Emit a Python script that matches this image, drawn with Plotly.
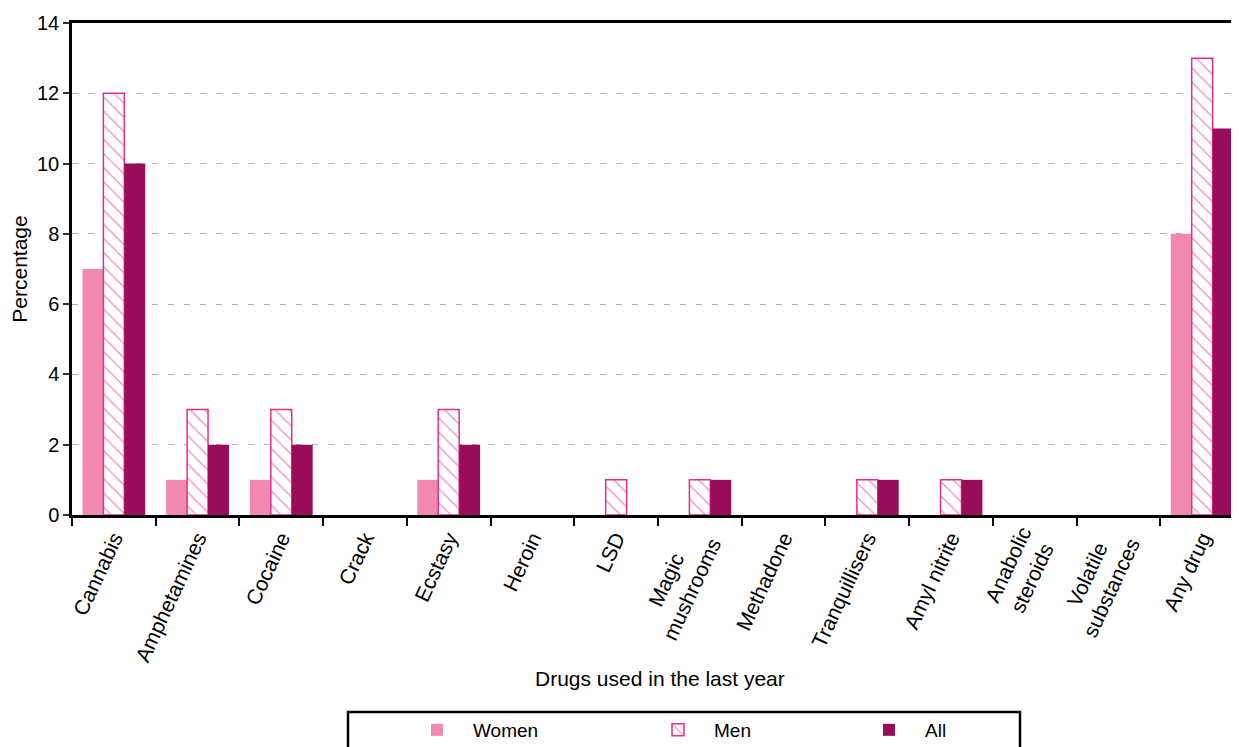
import plotly.graph_objects as go

categories = ["Cannabis", "Amphetamines", "Cocaine", "Crack", "Ecstasy", "Heroin", "LSD",
              "Magic mushrooms", "Methadone", "Tranquillisers", "Amyl nitrite",
              "Anabolic steroids", "Volatile substances", "Any drug"]
# tick labels as shown (two-line labels centred by padding the shorter line)
NB = "\u00a0"
tick_labels = ["Cannabis", "Amphetamines", "Cocaine", "Crack", "Ecstasy", "Heroin", "LSD",
               "Magic" + NB * 5 + "<br>mushrooms", "Methadone", "Tranquillisers", "Amyl nitrite",
               "Anabolic<br>steroids" + NB, "Volatile" + NB * 3 + "<br>substances", "Any drug"]
women = [7, 1, 1, 0, 1, 0, 0, 0, 0, 0, 0, 0, 0, 8]
men = [12, 3, 3, 0, 3, 0, 1, 1, 0, 1, 1, 0, 0, 13]
all_ = [10, 2, 2, 0, 2, 0, 0, 1, 0, 1, 1, 0, 0, 11]
y_ticks = [0, 2, 4, 6, 8, 10, 12, 14]

FONT = "Liberation Sans, Arial, sans-serif"
PINK = "#F088B0"
MAGENTA = "#E0308C"
PLUM = "#990C5A"

OFF = 8  # default page body margin
W, H = 1239 - OFF, 747 - OFF
# plot area in page coordinates: left 72, top 23, bottom 515, right 1239
L = 72 - OFF
T = 23 - OFF
B = H - (515 - OFF)
R = 0
pw = W - L - R
ph = H - T - B


def px(x):
    return (x - OFF - L) / pw


def py(y):
    return (H - B - (y - OFF)) / ph


men_line = [1.5 if v > 0 else 0 for v in men]

fig = go.Figure()
fig.add_trace(go.Bar(name="Women", x=categories, y=women, marker=dict(color=PINK, line=dict(width=0)),
                     legend="legend"))
fig.add_trace(go.Bar(name="Men", x=categories, y=men,
                     marker=dict(color="white", line=dict(color=MAGENTA, width=men_line),
                                 pattern=dict(shape="\\", fgcolor=MAGENTA, bgcolor="white", size=10, solidity=0.15)),
                     legend="legend2"))
fig.add_trace(go.Bar(name="All", x=categories, y=all_, marker=dict(color=PLUM, line=dict(width=0)),
                     legend="legend3"))

leg_common = dict(orientation="h", yanchor="middle", xanchor="left", font=dict(family=FONT, size=19, color="black"),
                  bgcolor="rgba(0,0,0,0)", borderwidth=0, itemwidth=62)
fig.update_layout(
    width=W, height=H,
    showlegend=True,
    margin=dict(l=L, r=R, t=T, b=B, autoexpand=False),
    paper_bgcolor="white", plot_bgcolor="white",
    barmode="group", bargap=0.25, bargroupgap=0,
    font=dict(family=FONT, size=20, color="black"),
    legend=dict(x=px(401), y=py(730), **leg_common),
    legend2=dict(x=px(642), y=py(730), **leg_common),
    legend3=dict(x=px(853), y=py(730), **leg_common),
    xaxis=dict(range=[-0.5, 13.44], showline=True, linecolor="black", linewidth=2.5, mirror=True,
               tickmode="array", tickvals=categories, ticktext=tick_labels,
               ticks="outside", tickson="boundaries", ticklen=8, tickwidth=1.5, tickcolor="black",
               tickangle=-65, tickfont=dict(family=FONT, size=21), showgrid=False, automargin=False),
    yaxis=dict(range=[0, 14], tickvals=y_ticks, ticktext=[str(v) for v in y_ticks],
               showline=True, linecolor="black", linewidth=2.5, ticks="outside", ticklen=6,
               tickwidth=1.5, tickcolor="#333", showgrid=True, gridcolor="#b4b4b4", gridwidth=1,
               griddash="6px,10px", zeroline=False, tickfont=dict(family=FONT, size=20),
               title=dict(text="Percentage", font=dict(family=FONT, size=21), standoff=12), automargin=False),
    shapes=[dict(type="rect", xref="paper", yref="paper", x0=px(348), x1=px(1020), y0=py(712), y1=py(770),
                 line=dict(color="black", width=2.5), fillcolor="rgba(0,0,0,0)", layer="above")],
    annotations=[dict(text="Drugs used in the last year", xref="paper", yref="paper", x=px(660), y=py(678),
                      xanchor="center", yanchor="middle", showarrow=False, font=dict(family=FONT, size=21))],
)

fig.write_html("out.html")
